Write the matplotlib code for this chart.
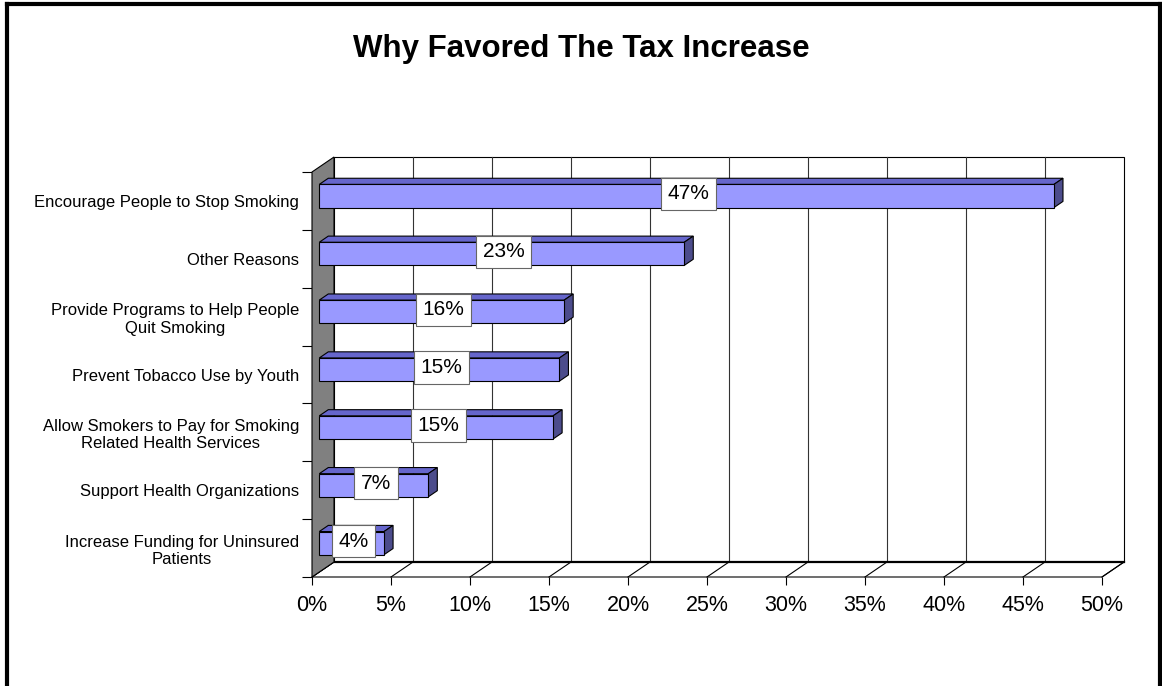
import matplotlib.pyplot as plt
from matplotlib.patches import Polygon
from matplotlib.lines import Line2D

plt.rcParams["font.family"] = ["Liberation Sans", "DejaVu Sans"]

# data, top to bottom as in the chart
categories = [
    "Encourage People to Stop Smoking",
    "Other Reasons",
    "Provide Programs to Help People\nQuit Smoking",
    "Prevent Tobacco Use by Youth",
    "Allow Smokers to Pay for Smoking\nRelated Health Services",
    "Support Health Organizations",
    "Increase Funding for Uninsured\nPatients",
]
values = [46.5, 23.1, 15.5, 15.2, 14.8, 6.9, 4.1]
value_labels = ["47%", "23%", "16%", "15%", "15%", "7%", "4%"]
xticks = [0, 5, 10, 15, 20, 25, 30, 35, 40, 45, 50]

W, H = 1162, 686
fig = plt.figure(figsize=(W / 100, H / 100), dpi=100)
fig.patch.set_facecolor("white")

# front plane of the 3d box
ax = fig.add_axes([312 / W, (H - 577) / H, 790 / W, 405 / H])
n = len(categories)
xmax = xticks[-1]
ax.set_xlim(0, xmax)
ax.set_ylim(0, n)
for s in ax.spines.values():
    s.set_visible(False)
ax.patch.set_alpha(0)

# depth shear in data units (22 px right, 15 px up at full depth)
kx = 22 * xmax / 790
ky = 15 * n / 405


def proj(x, y, d):
    return (x + d * kx, y + d * ky)


def poly(pts, fc, ec="black", lw=0.8, z=1):
    p = Polygon(pts, closed=True, facecolor=fc, edgecolor=ec, linewidth=lw,
                zorder=z, clip_on=False, joinstyle="miter")
    ax.add_patch(p)
    return p


# back wall
poly([proj(0, 0, 1), proj(xmax, 0, 1), proj(xmax, n, 1), proj(0, n, 1)], "white", z=1)
for t in xticks[1:-1]:
    x0, y0 = proj(t, 0, 1)
    _, y1 = proj(t, n, 1)
    ax.plot([x0, x0], [y0, y1], color="#333333", lw=0.8, zorder=1.5, clip_on=False)

# floor
poly([proj(0, 0, 0), proj(xmax, 0, 0), proj(xmax, 0, 1), proj(0, 0, 1)], "white", z=2)
for t in xticks:
    a = proj(t, 0, 0)
    b = proj(t, 0, 1)
    ax.plot([a[0], b[0]], [a[1], b[1]], color="black", lw=0.8, zorder=2.1, clip_on=False)
a = proj(0, 0, 1)
b = proj(xmax, 0, 1)
ax.plot([a[0], b[0]], [a[1], b[1]], color="black", lw=1.6, zorder=2.2, clip_on=False)

# left wall
poly([proj(0, 0, 0), proj(0, 0, 1), proj(0, n, 1), proj(0, n, 0)], "#808080", z=3)

# bars
d0, d1 = 0.33, 0.74
h = 0.40
for i, (v, lab) in enumerate(zip(values, value_labels)):
    yc = n - 1 - i + 0.5
    yb, yt = yc - h / 2, yc + h / 2
    poly([proj(0, yt, d0), proj(v, yt, d0), proj(v, yt, d1), proj(0, yt, d1)], "#6666cc", z=4)
    poly([proj(v, yb, d0), proj(v, yt, d0), proj(v, yt, d1), proj(v, yb, d1)], "#4c4c8c", z=4)
    ax.barh(yc + d0 * ky, v, left=d0 * kx, height=h, color="#9999ff",
            edgecolor="black", linewidth=0.8, zorder=5, clip_on=False)
    ax.annotate(lab, xy=(d0 * kx + v / 2, yc + d0 * ky), xytext=(2, 2),
                textcoords="offset pixels", ha="center", va="center",
                fontsize=15, zorder=6,
                bbox=dict(boxstyle="square,pad=0.32", fc="white", ec="#666666", lw=0.8))

# axes ticks
ax.set_xticks(xticks)
ax.set_xticklabels([f"{t}%" for t in xticks], fontsize=15.5)
ax.tick_params(axis="x", length=5.8, width=0.8, pad=7, direction="out")
ax.set_yticks(range(n + 1))
ax.set_yticklabels([])
ax.set_yticks([k + 0.5 for k in range(n)], minor=True)
ax.set_yticklabels(categories[::-1], minor=True, fontsize=12, multialignment="center")
ax.tick_params(axis="y", which="major", length=7.2, width=0.8, direction="out")
ax.tick_params(axis="y", which="minor", length=0, pad=9.4)

fig.text(0.5, 1 - 56.7 / H, "Why Favored The Tax Increase", ha="center", va="baseline",
         fontsize=22.5, fontweight="bold")

# outer frame (open at the bottom)
for xs, ys in [([7, 7], [0, H - 4]), ([7, 1159.5], [H - 4, H - 4]), ([1159.5, 1159.5], [H - 4, 0])]:
    fig.add_artist(Line2D([x / W for x in xs], [y / H for y in ys], color="black",
                          lw=3, transform=fig.transFigure, solid_capstyle="projecting"))

fig.savefig("out.png", dpi=100)
